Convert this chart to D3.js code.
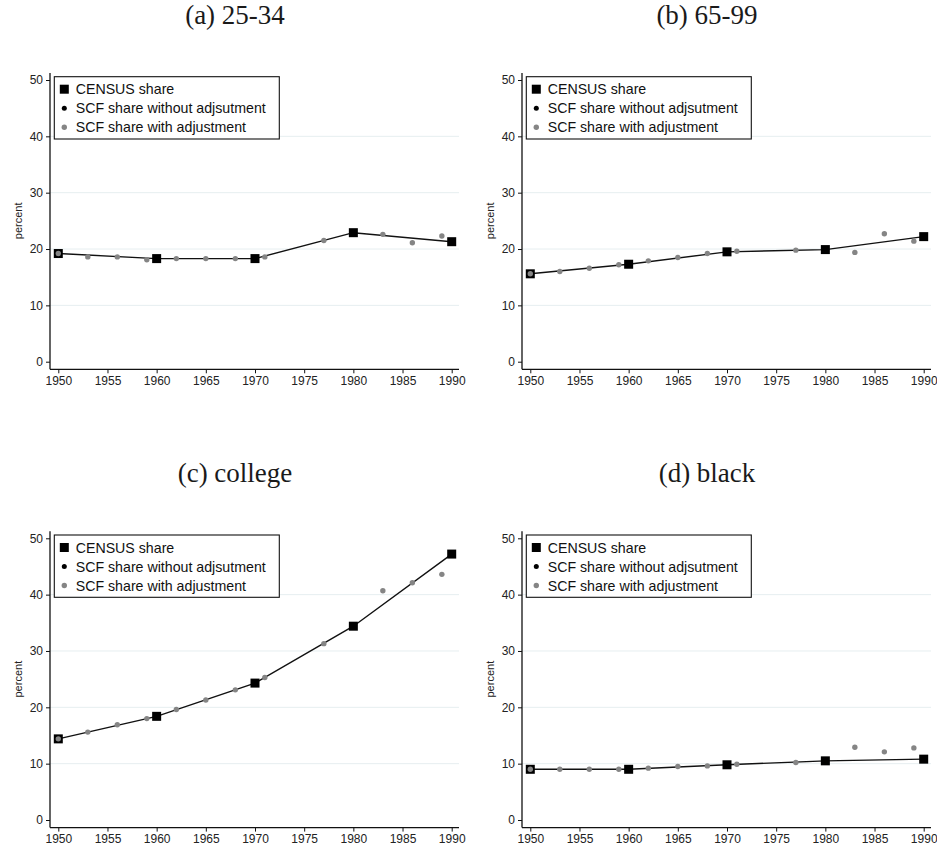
<!DOCTYPE html>
<html>
<head>
<meta charset="utf-8">
<script src="https://cdn.jsdelivr.net/npm/d3@7"></script>
<style>
  html, body { margin: 0; padding: 0; background: #fff; }
  svg { display: block; }
</style>
</head>
<body>
<svg id="chart" width="937" height="850"></svg>
<script>
// Years observed in each source
const censusYears = [1950, 1960, 1970, 1980, 1990];
const scfYears = [1950, 1953, 1956, 1959, 1962, 1965, 1968, 1971, 1977, 1983, 1986, 1989];

// Panel titles
const panelTitles = ["(a) 25-34", "(b) 65-99", "(c) college", "(d) black"];

// CENSUS shares (percent), one array per panel
const census2534 = [19.2, 18.3, 18.3, 22.9, 21.3];
const census6599 = [15.6, 17.3, 19.5, 19.9, 22.2];
const censusCollege = [14.4, 18.4, 24.3, 34.4, 47.2];
const censusBlack = [9.0, 9.0, 9.8, 10.5, 10.8];

// SCF shares with adjustment (percent)
const scfAdj2534 = [19.2, 18.6, 18.6, 18.1, 18.3, 18.3, 18.3, 18.6, 21.5, 22.6, 21.1, 22.3];
const scfAdj6599 = [15.6, 16.0, 16.6, 17.2, 17.9, 18.5, 19.2, 19.6, 19.8, 19.4, 22.7, 21.4];
const scfAdjCollege = [14.4, 15.6, 16.9, 18.0, 19.6, 21.3, 23.1, 25.3, 31.3, 40.7, 42.1, 43.6];
const scfAdjBlack = [9.0, 9.0, 9.0, 9.0, 9.2, 9.5, 9.6, 9.9, 10.2, 12.9, 12.1, 12.8];

// Axis ticks and legend labels
const xTicks = [1950, 1955, 1960, 1965, 1970, 1975, 1980, 1985, 1990];
const yTicks = [0, 10, 20, 30, 40, 50];
const gridTicks = [10, 20, 30, 40];
const legendLabels = ["CENSUS share", "SCF share without adjsutment", "SCF share with adjustment"];
const yLabel = "percent";

const censusSeries = [census2534, census6599, censusCollege, censusBlack];
const scfSeries = [scfAdj2534, scfAdj6599, scfAdjCollege, scfAdjBlack];

const svg = d3.select("#chart");
const sans = "'Liberation Sans', Arial, Helvetica, sans-serif";
const serif = "'Liberation Serif', 'Times New Roman', serif";
const gray = "#858585";
const ink = "#111";

const offsets = [[0, 0], [472, 0], [0, 458.3], [472, 458.3]];

// Geometry shared by all four panels (panel-local coordinates)
const axisLeft = 50, axisRight = 459, axisTop = 73, axisBottom = 369.3;
const x = d3.scaleLinear().domain([1950, 1990]).range([58.3, 451.7]);
const y = d3.scaleLinear().domain([0, 50]).range([361.7, 80]);

panelTitles.forEach((title, i) => {
  const [ox, oy] = offsets[i];
  const g = svg.append("g").attr("transform", `translate(${ox},${oy})`);

  g.append("text")
    .attr("x", 235).attr("y", 24)
    .attr("text-anchor", "middle")
    .attr("font-family", serif)
    .attr("font-size", 27)
    .attr("fill", "#1a1a1a")
    .text(title);

  // gridlines
  g.append("g").selectAll("line").data(gridTicks).join("line")
    .attr("x1", axisLeft).attr("x2", axisRight)
    .attr("y1", d => y(d)).attr("y2", d => y(d))
    .attr("stroke", "#e6eef0").attr("stroke-width", 1);

  // y axis
  const yAxis = g.append("g")
    .attr("transform", `translate(${axisLeft},0)`)
    .call(d3.axisLeft(y).tickValues(yTicks).tickSize(4).tickPadding(3).tickFormat(d3.format("d")));
  yAxis.select(".domain").remove();
  yAxis.selectAll(".tick line").attr("stroke", ink).attr("stroke-width", 1);
  yAxis.selectAll(".tick text").attr("font-family", sans).attr("font-size", 12).attr("fill", "#222");
  g.append("line")
    .attr("x1", axisLeft).attr("x2", axisLeft)
    .attr("y1", axisTop).attr("y2", axisBottom)
    .attr("stroke", ink).attr("stroke-width", 1.3);

  // x axis
  const xAxis = g.append("g")
    .attr("transform", `translate(0,${axisBottom})`)
    .call(d3.axisBottom(x).tickValues(xTicks).tickSize(4).tickPadding(3).tickFormat(d3.format("d")));
  xAxis.select(".domain").remove();
  xAxis.selectAll(".tick line").attr("stroke", ink).attr("stroke-width", 1);
  xAxis.selectAll(".tick text").attr("font-family", sans).attr("font-size", 12).attr("fill", "#222");
  g.append("line")
    .attr("x1", axisLeft).attr("x2", axisRight)
    .attr("y1", axisBottom).attr("y2", axisBottom)
    .attr("stroke", ink).attr("stroke-width", 1.3);

  // y axis title
  g.append("text")
    .attr("transform", `translate(22,${(y(0) + y(50)) / 2}) rotate(-90)`)
    .attr("text-anchor", "middle")
    .attr("font-family", sans)
    .attr("font-size", 11)
    .attr("fill", "#222")
    .text(yLabel);

  const census = censusYears.map((yr, k) => ({ yr, v: censusSeries[i][k] }));
  const scf = scfYears.map((yr, k) => ({ yr, v: scfSeries[i][k] }));

  // census line
  g.append("path")
    .datum(census)
    .attr("fill", "none")
    .attr("stroke", ink)
    .attr("stroke-width", 1.4)
    .attr("d", d3.line().x(d => x(d.yr)).y(d => y(d.v)));

  // census squares
  const s = 9;
  g.append("g").selectAll("rect").data(census).join("rect")
    .attr("x", d => x(d.yr) - s / 2).attr("y", d => y(d.v) - s / 2)
    .attr("width", s).attr("height", s)
    .attr("fill", "#000");

  // SCF with adjustment dots
  g.append("g").selectAll("circle").data(scf).join("circle")
    .attr("cx", d => x(d.yr)).attr("cy", d => y(d.v))
    .attr("r", 2.7)
    .attr("fill", gray);

  // legend
  const lg = g.append("g").attr("transform", "translate(54.3,76.7)");
  lg.append("rect")
    .attr("width", 225).attr("height", 62.3)
    .attr("fill", "#fff").attr("stroke", ink).attr("stroke-width", 1.1);
  const rowY = [12.5, 31.5, 50.5];
  lg.append("rect").attr("x", 10 - 4.5).attr("y", rowY[0] - 4.5).attr("width", 9).attr("height", 9).attr("fill", "#000");
  lg.append("circle").attr("cx", 10).attr("cy", rowY[1]).attr("r", 2.5).attr("fill", "#000");
  lg.append("circle").attr("cx", 10).attr("cy", rowY[2]).attr("r", 2.7).attr("fill", gray);
  lg.selectAll("text.lab").data(legendLabels).join("text")
    .attr("class", "lab")
    .attr("x", 21.4).attr("y", (d, k) => rowY[k] + 5)
    .attr("font-family", sans).attr("font-size", 14.2)
    .attr("fill", "#111")
    .text(d => d);
});
</script>
</body>
</html>
